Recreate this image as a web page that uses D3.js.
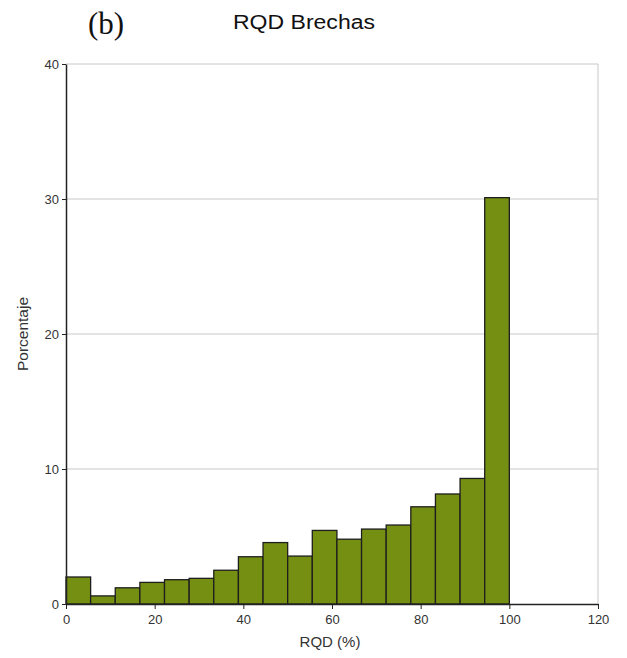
<!DOCTYPE html>
<html>
<head>
<meta charset="utf-8">
<script src="https://cdn.jsdelivr.net/npm/d3@7"></script>
<style>
  body { margin: 0; background: #fff; }
  text { font-family: "Liberation Sans", Arial, sans-serif; }
</style>
</head>
<body>
<svg id="chart" width="627" height="658"></svg>
<script>
// histogram bins (RQD %), 18 equal bins from 0 to 100
const binStarts = d3.range(18).map(i => i * 100 / 18);
const binWidth = 100 / 18;
const percentages = [2.0, 0.6, 1.2, 1.6, 1.8, 1.9, 2.5, 3.5, 4.55, 3.55, 5.45, 4.8, 5.55, 5.85, 7.2, 8.15, 9.3, 30.1];
const xTicks = [0, 20, 40, 60, 80, 100, 120];
const yTicks = [0, 10, 20, 30, 40];

const svg = d3.select("#chart");
const margin = { left: 66, right: 29, top: 64, bottom: 54 };
const width = 627 - margin.left - margin.right;
const height = 658 - margin.top - margin.bottom;

const x = d3.scaleLinear().domain([0, 120]).range([0, width]);
const y = d3.scaleLinear().domain([0, 40]).range([height, 0]);

const g = svg.append("g").attr("transform", `translate(${margin.left},${margin.top})`);

// gridlines
g.selectAll(".grid")
    .data(yTicks.slice(1))
    .enter()
    .append("line")
    .attr("x1", 0).attr("x2", width)
    .attr("y1", d => y(d)).attr("y2", d => y(d))
    .attr("stroke", "#c8c8c8").attr("stroke-width", 1);

g.append("line")
    .attr("x1", x(120)).attr("x2", x(120))
    .attr("y1", 0).attr("y2", height)
    .attr("stroke", "#c8c8c8").attr("stroke-width", 1);

// bars
g.selectAll(".bar")
    .data(percentages)
    .enter()
    .append("rect")
    .attr("class", "bar")
    .attr("x", (d, i) => x(binStarts[i]))
    .attr("width", x(binWidth) - x(0))
    .attr("y", d => y(d))
    .attr("height", d => y(0) - y(d))
    .attr("fill", "#758f12")
    .attr("stroke", "#1e1e1e")
    .attr("stroke-width", 1.3);

// axes
const xAxis = g.append("g")
    .attr("transform", `translate(0,${height})`)
    .call(d3.axisBottom(x).tickValues(xTicks).tickSize(5).tickSizeOuter(0));
const yAxis = g.append("g")
    .call(d3.axisLeft(y).tickValues(yTicks).tickSize(4).tickSizeOuter(0));

[xAxis, yAxis].forEach(a => {
    a.select(".domain").attr("stroke", "#222").attr("stroke-width", 1.5);
    a.selectAll(".tick line").attr("stroke", "#222");
    a.selectAll(".tick text")
        .attr("fill", "#333")
        .style("font-size", "13px")
        .style("font-family", "Liberation Sans, Arial, sans-serif");
});
xAxis.selectAll(".tick text").attr("dy", "0.95em");

// labels
svg.append("text")
    .attr("x", 330)
    .attr("y", 647)
    .attr("text-anchor", "middle")
    .attr("fill", "#333")
    .style("font-size", "15px")
    .text("RQD (%)");

svg.append("text")
    .attr("transform", `translate(28,334) rotate(-90)`)
    .attr("text-anchor", "middle")
    .attr("fill", "#333")
    .style("font-size", "15.5px")
    .text("Porcentaje");

svg.append("text")
    .attr("x", 233)
    .attr("y", 29)
    .attr("textLength", 142)
    .attr("lengthAdjust", "spacingAndGlyphs")
    .attr("fill", "#111")
    .style("font-size", "20px")
    .text("RQD Brechas");

svg.append("text")
    .attr("x", 88)
    .attr("y", 34)
    .attr("fill", "#111")
    .style("font-family", "Liberation Serif, 'Times New Roman', serif")
    .style("font-size", "31px")
    .text("(b)");
</script>
</body>
</html>
